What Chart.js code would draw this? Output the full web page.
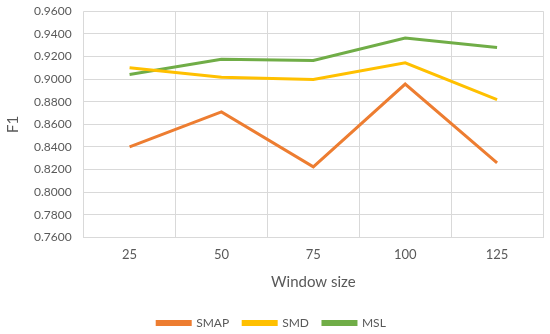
<!DOCTYPE html>
<html>
<head>
<meta charset="utf-8">
<script src="https://cdn.jsdelivr.net/npm/chart.js@4"></script>
<style>
  html, body { margin: 0; padding: 0; background: #fff; overflow: hidden; }
  #wrap { position: relative; top: -8px; width: 550px; height: 342px; }
</style>
</head>
<body>
<div id="wrap"><canvas id="grafico"></canvas></div>
<script>
// Datos del gráfico
const ventanas = ['25', '50', '75', '100', '125'];
const smap = [0.8400, 0.8709, 0.8224, 0.8956, 0.8259];
const smd  = [0.9100, 0.9015, 0.8997, 0.9144, 0.8818];
const msl  = [0.9040, 0.9176, 0.9165, 0.9363, 0.9280];

const colorTexto = '#595959';
const colorGrid  = '#d9d9d9';

function serie(label, datos, color){
    return {
        label: label,
        data: datos,
        borderColor: color,
        backgroundColor: color,
        borderWidth: 3,
        pointRadius: 0,
        tension: 0
    };
}

new Chart(document.getElementById('grafico'), {
    type: 'line',
    data: {
        labels: ventanas,
        datasets: [
            serie('SMAP', smap, '#ED7D31'),
            serie('SMD',  smd,  '#FFC000'),
            serie('MSL',  msl,  '#70AD47')
        ]
    },
    options: {
        responsive: true,
        maintainAspectRatio: false,
        animation: false,
        layout: { padding: { top: 0, right: 7, left: 0, bottom: -5 } },
        plugins: {
            legend: {
                position: 'bottom',
                labels: {
                    boxWidth: 33,
                    boxHeight: 3,
                    padding: 14,
                    color: colorTexto,
                    font: { family: 'Lato', size: 12 }
                }
            },
            tooltip: { enabled: false }
        },
        scales: {
            x: {
                offset: true,
                grid: { color: colorGrid, offset: true, drawTicks: false },
                border: { color: colorGrid },
                ticks: { color: colorTexto, font: { family: 'Lato', size: 13 }, padding: 10 },
                title: {
                    display: true,
                    text: 'Window size',
                    color: colorTexto,
                    font: { family: 'Lato', size: 15 },
                    padding: { top: 0, bottom: 12 }
                }
            },
            y: {
                min: 0.76,
                max: 0.96,
                grid: { color: colorGrid, drawTicks: false },
                border: { display: false },
                ticks: {
                    stepSize: 0.02,
                    color: colorTexto,
                    font: { family: 'Lato', size: 12 },
                    padding: 12,
                    callback: v => v.toFixed(4)
                },
                title: {
                    display: true,
                    text: 'F1',
                    color: colorTexto,
                    font: { family: 'Lato', size: 15 },
                    padding: { top: 4, bottom: 0 }
                }
            }
        }
    }
});
</script>
</body>
</html>
